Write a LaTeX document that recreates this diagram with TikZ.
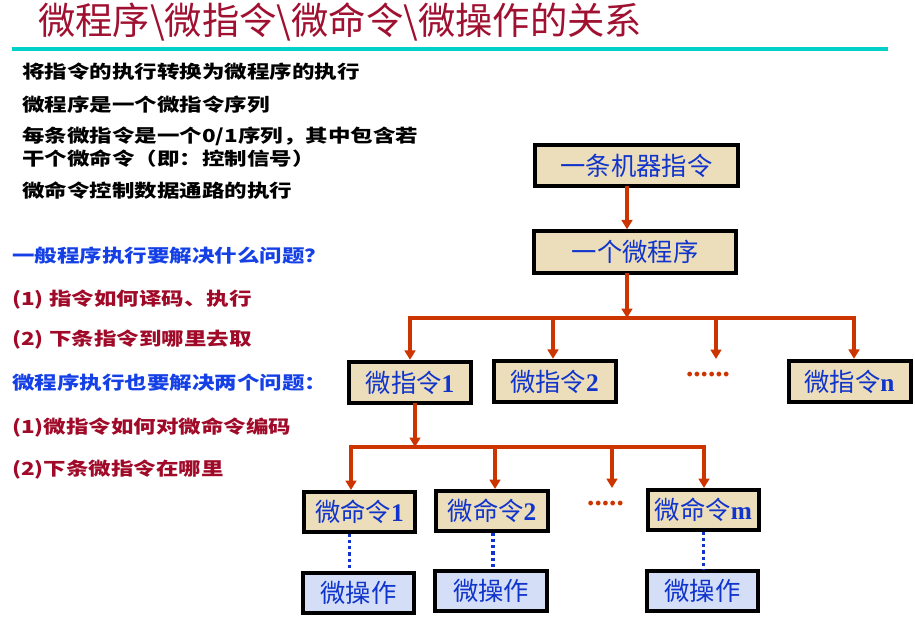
\documentclass[tikz,border=0pt]{standalone}
\usepackage{fontspec}
\setmainfont{Liberation Serif}
\newfontfamily\cjk{Noto Sans CJK SC}
\usepackage{xcolor}
\usetikzlibrary{arrows.meta,calc}

\definecolor{titlered}{RGB}{160,16,48}
\definecolor{rulecyan}{RGB}{0,208,200}
\definecolor{inkblue}{RGB}{16,52,204}
\definecolor{askblue}{RGB}{20,64,230}
\definecolor{askred}{RGB}{160,10,40}
\definecolor{linkred}{RGB}{204,52,0}
\definecolor{paper}{RGB}{236,222,186}
\definecolor{sky}{RGB}{212,222,246}

\newcommand{\bnum}[1]{{\rmfamily\bfseries #1}}
\newcommand{\wide}[1]{\scalebox{1.25}[1]{#1}}

\begin{document}
\begin{tikzpicture}[
  x=0.75pt, y=-0.75pt,
  box/.style={draw, line width=3pt, fill=paper, text=inkblue, inner sep=0pt,
    font=\cjk\fontsize{19pt}{20pt}\selectfont},
  topbox/.style={box, minimum width=152pt, minimum height=31pt},
  instbox/.style={box, minimum width=91.5pt, minimum height=31pt},
  cmdbox/.style={box, minimum width=83.5pt, minimum height=30pt},
  opbox/.style={cmdbox, fill=sky},
  link/.style={draw=linkred, line width=2.6pt, line cap=rect},
  arr/.style={link, -{Triangle[width=8pt,length=7pt]}},
  micro/.style={draw=inkblue, line width=2.6pt, dash pattern=on 2.4pt off 2.2pt},
  note/.style={anchor=west, inner sep=0pt,
    font=\cjk\bfseries\fontsize{13.5pt}{16pt}\selectfont},
  more/.style={text=linkred, inner sep=0pt,
    font=\rmfamily\bfseries\fontsize{22pt}{22pt}\selectfont}
]
\useasboundingbox (0,0) rectangle (915,638);

% Title
\node[anchor=west, inner sep=0pt, text=titlered,
  font=\cjk\fontsize{28pt}{30pt}\selectfont] (title) at (38,22)
  {微程序\textbackslash 微指令\textbackslash 微命令\textbackslash 微操作的关系};
\draw[rulecyan, line width=2.4pt] (12,49) -- (888,49);

% Notes
\node[note] (n1) at (22,72) {\wide{将指令的执行转换为微程序的执行}};
\node[note] (n2) at (22,105) {\wide{微程序是一个微指令序列}};
\node[note] (n3) at (22,136) {\wide{每条微指令是一个0/1序列，其中包含若}};
\node[note] (n4) at (22,159) {\wide{干个微命令（即：控制信号）}};
\node[note] (n5) at (22,191) {\wide{微命令控制数据通路的执行}};

% Questions
\node[note, text=askblue] (q1) at (12,256) {\wide{一般程序执行要解决什么问题？}};
\node[note, text=askred] (q2) at (12,300) {\wide{(1) 指令如何译码、执行}};
\node[note, text=askred] (q3) at (12,340) {\wide{(2) 下条指令到哪里去取}};
\node[note, text=askblue] (q4) at (12,383) {\wide{微程序执行也要解决两个问题：}};
\node[note, text=askred] (q5) at (12,427) {\wide{(1)微指令如何对微命令编码}};
\node[note, text=askred] (q6) at (12,470) {\wide{(2)下条微指令在哪里}};

% Instruction and microprogram
\node[topbox] (ins) at (636.5,165.5) {一条机器指令};
\node[topbox] (prog) at (635,252) {一个微程序};

% Microinstructions
\node[instbox] (mi1) at (410,382.5) {微指令\bnum{1}};
\node[instbox] (mi2) at (554.5,381.5) {微指令\bnum{2}};
\node[more] (dots1) at (708,375) {......};
\node[instbox] (min) at (849.5,381.5) {微指令\bnum{n}};

% Microcommands
\node[cmdbox] (mc1) at (359.5,512) {微命令\bnum{1}};
\node[cmdbox] (mc2) at (492,511) {微命令\bnum{2}};
\node[more] (dots2) at (605.5,504) {.....};
\node[cmdbox] (mcm) at (703.5,510) {微命令\bnum{m}};

% Microoperations
\node[opbox] (mo1) at (358.5,592.5) {微操作};
\node[opbox] (mo2) at (491,591) {微操作};
\node[opbox] (mom) at (702.5,591) {微操作};

% Buses
\coordinate (bus1) at (627,318);
\coordinate (j11) at (410,318);
\coordinate (j12) at (553,318);
\coordinate (j13) at (716,318);
\coordinate (j14) at (854,318);
\coordinate (e13) at (716,359);
\coordinate (bus2) at (415,447);
\coordinate (j21) at (351,447);
\coordinate (j22) at (495,447);
\coordinate (j23) at (612,447);
\coordinate (j24) at (704,447);
\coordinate (e23) at (612,488);

\draw[arr] (ins.south -| bus1) -- (prog.north -| bus1);
\draw[arr] (prog.south -| bus1) -- (bus1);
\draw[arr] (j14) -- (j11) -- (j11 |- mi1.north);
\draw[arr] (j12) -- (j12 |- mi2.north);
\draw[arr] (j13) -- (e13);
\draw[arr] (j14) -- (j14 |- min.north);

\draw[arr] (mi1.south -| bus2) -- (bus2);
\draw[arr] (j24) -- (j21) -- (j21 |- mc1.north);
\draw[arr] (j22) -- (j22 |- mc2.north);
\draw[arr] (j23) -- (e23);
\draw[arr] (j24) -- (j24 |- mcm.north);

% Dotted links
\draw[micro] ($(mc1.south)+(-10,0)$) -- ($(mc1.south |- mo1.north)+(-10,0)$);
\draw[micro] ($(mc2.south)+(1,0)$) -- ($(mc2.south |- mo2.north)+(1,0)$);
\draw[micro] (mcm.south) -- (mcm.south |- mom.north);

\end{tikzpicture}
\end{document}
